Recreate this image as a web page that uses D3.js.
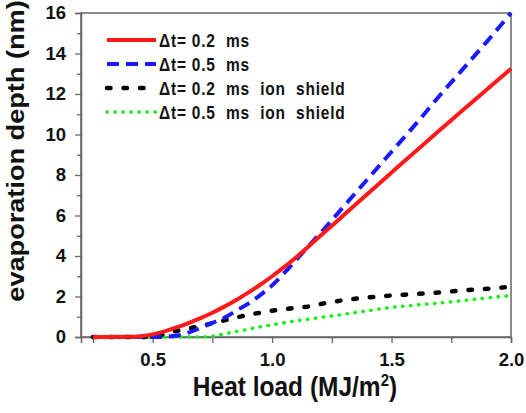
<!DOCTYPE html>
<html>
<head>
<meta charset="utf-8">
<script src="https://cdn.jsdelivr.net/npm/d3@7"></script>
<style>
  body { margin: 0; background: #fff; }
  text { font-family: Arial, "Liberation Sans", sans-serif; font-weight: bold; fill: #111; }
</style>
</head>
<body>
<svg id="chart" width="526" height="413"></svg>
<script>
// heat load (MJ/m2)
var heatLoad = [0.25, 0.3, 0.4, 0.45, 0.5, 0.55, 0.6, 0.65, 0.7, 0.75, 0.8, 0.85, 0.9, 0.95, 1.0, 1.05, 1.1, 1.15, 1.2, 1.3, 1.4, 1.5, 1.6, 1.7, 1.8, 1.9, 2.0];
// evaporation depth (nm) per series
var dt02 = [0, 0, 0.01, 0.04, 0.13, 0.28, 0.47, 0.69, 0.93, 1.2, 1.5, 1.83, 2.19, 2.58, 3.0, 3.45, 3.93, 4.45, 4.97, 6.02, 7.07, 8.12, 9.16, 10.2, 11.22, 12.24, 13.25];
var dt05 = [0, 0, 0, 0, 0, 0.01, 0.07, 0.22, 0.45, 0.7, 0.95, 1.3, 1.65, 2.07, 2.55, 3.15, 3.8, 4.45, 5.1, 6.45, 7.8, 9.15, 10.5, 11.9, 13.25, 14.6, 16.0];
var dt02shield = [0, 0, 0, 0, 0.05, 0.15, 0.3, 0.42, 0.54, 0.68, 0.82, 0.96, 1.1, 1.2, 1.3, 1.37, 1.44, 1.5, 1.62, 1.82, 1.95, 2.05, 2.12, 2.2, 2.3, 2.38, 2.48];
var dt05shield = [0, 0, 0, 0, 0, 0, 0, 0, 0, 0.04, 0.15, 0.27, 0.38, 0.5, 0.6, 0.7, 0.8, 0.88, 0.96, 1.12, 1.3, 1.46, 1.58, 1.68, 1.8, 1.93, 2.04];
var xTicks = [0.5, 1.0, 1.5, 2.0];
var yTicks = [0, 2, 4, 6, 8, 10, 12, 14, 16];

var series = [
  { name: "\u0394t= 0.2  ms", values: dt02, color: "#ff1a1a", width: 4, dash: null, cap: "butt" },
  { name: "\u0394t= 0.5  ms", values: dt05, color: "#1a1aff", width: 4, dash: "12,7", cap: "butt" },
  { name: "\u0394t= 0.2  ms  ion  shield", values: dt02shield, color: "#000", width: 4.5, dash: "3.5,13", cap: "round" },
  { name: "\u0394t= 0.5  ms  ion  shield", values: dt05shield, color: "#1aee1a", width: 3.5, dash: "0.5,7.5", cap: "round" }
];

var margin = { top: 13, right: 15, bottom: 76, left: 81 };
var svg = d3.select("#chart");
var width = 526 - margin.left - margin.right;
var height = 413 - margin.top - margin.bottom;
var g = svg.append("g").attr("transform", "translate(" + [margin.left, margin.top] + ")");

var x = d3.scaleLinear().domain([0.2, 2.0]).range([0, width]);
var y = d3.scaleLinear().domain([0, 16]).range([height, 0]);
var axisColor = "#666";

// frame
g.append("rect").attr("width", width).attr("height", height)
  .attr("fill", "none").attr("stroke", axisColor).attr("stroke-width", 1.5);

// minor ticks
var xMinor = d3.range(0.25, 2.0, 0.25).filter(function (v) { return xTicks.indexOf(v) < 0; });
g.append("g").attr("transform", "translate(0," + height + ")")
  .call(d3.axisBottom(x).tickValues(xMinor).tickSize(6).tickFormat(""))
  .call(function (a) { a.select(".domain").remove(); a.selectAll("line").attr("stroke", axisColor).attr("stroke-width", 1.3); });
g.append("g")
  .call(d3.axisLeft(y).tickValues(d3.range(1, 16, 2)).tickSize(4).tickFormat(""))
  .call(function (a) { a.select(".domain").remove(); a.selectAll("line").attr("stroke", axisColor).attr("stroke-width", 1.3); });

var xAxis = g.append("g").attr("transform", "translate(0," + height + ")")
  .call(d3.axisBottom(x).tickValues(xTicks).tickSize(6).tickPadding(10).tickFormat(d3.format(".1f")));
var yAxis = g.append("g")
  .call(d3.axisLeft(y).tickValues(yTicks).tickSize(6).tickPadding(9));
[xAxis, yAxis].forEach(function (a) {
  a.select(".domain").attr("stroke", axisColor).attr("stroke-width", 1.5);
  a.selectAll("line").attr("stroke", axisColor).attr("stroke-width", 1.3);
  a.selectAll("text").style("font-size", "18.5px").style("font-weight", "bold")
    .style("font-family", "Arial, 'Liberation Sans', sans-serif").attr("fill", "#111");
});

// curves
var line = d3.line()
  .x(function (d) { return x(d[0]); })
  .y(function (d) { return y(d[1]); })
  .curve(d3.curveMonotoneX);

g.append("g").selectAll("path")
  .data(series.slice().reverse())
  .enter().append("path")
  .attr("fill", "none")
  .attr("stroke", function (d) { return d.color; })
  .attr("stroke-width", function (d) { return d.width; })
  .attr("stroke-dasharray", function (d) { return d.dash; })
  .attr("stroke-linecap", function (d) { return d.cap; })
  .attr("d", function (d) { return line(heatLoad.map(function (h, i) { return [h, d.values[i]]; })); });

// legend
var legend = g.append("g").attr("transform", "translate(" + [26, 27] + ")");
var row = legend.selectAll(".row").data(series).enter().append("g")
  .attr("transform", function (d, i) { return "translate(0," + (i * 24) + ")"; });
row.append("line").attr("x1", 0).attr("x2", 49).attr("y1", 0).attr("y2", 0)
  .attr("stroke", function (d) { return d.color; })
  .attr("stroke-width", function (d) { return d.width; })
  .attr("stroke-dasharray", function (d) { return d.dash; })
  .attr("stroke-linecap", function (d) { return d.cap; });
row.append("text")
  .attr("transform", "translate(52,6.5) scale(1,1.15)")
  .style("font-size", "15.5px").style("letter-spacing", "0.8px")
  .style("white-space", "pre")
  .text(function (d) { return d.name; });

// axis titles
var xTitle = svg.append("text")
  .attr("transform", "translate(295,396) scale(1,1.12)")
  .attr("text-anchor", "middle").style("font-size", "24.5px");
xTitle.append("tspan").text("Heat load (MJ/m");
xTitle.append("tspan").attr("dy", -9).style("font-size", "15px").text("2");
xTitle.append("tspan").attr("dy", 9).text(")");

svg.append("text")
  .attr("transform", "translate(" + [24, 151] + ") rotate(-90) scale(1.18,1)")
  .attr("text-anchor", "middle").style("font-size", "23px")
  .text("evaporation depth (nm)");
</script>
</body>
</html>
